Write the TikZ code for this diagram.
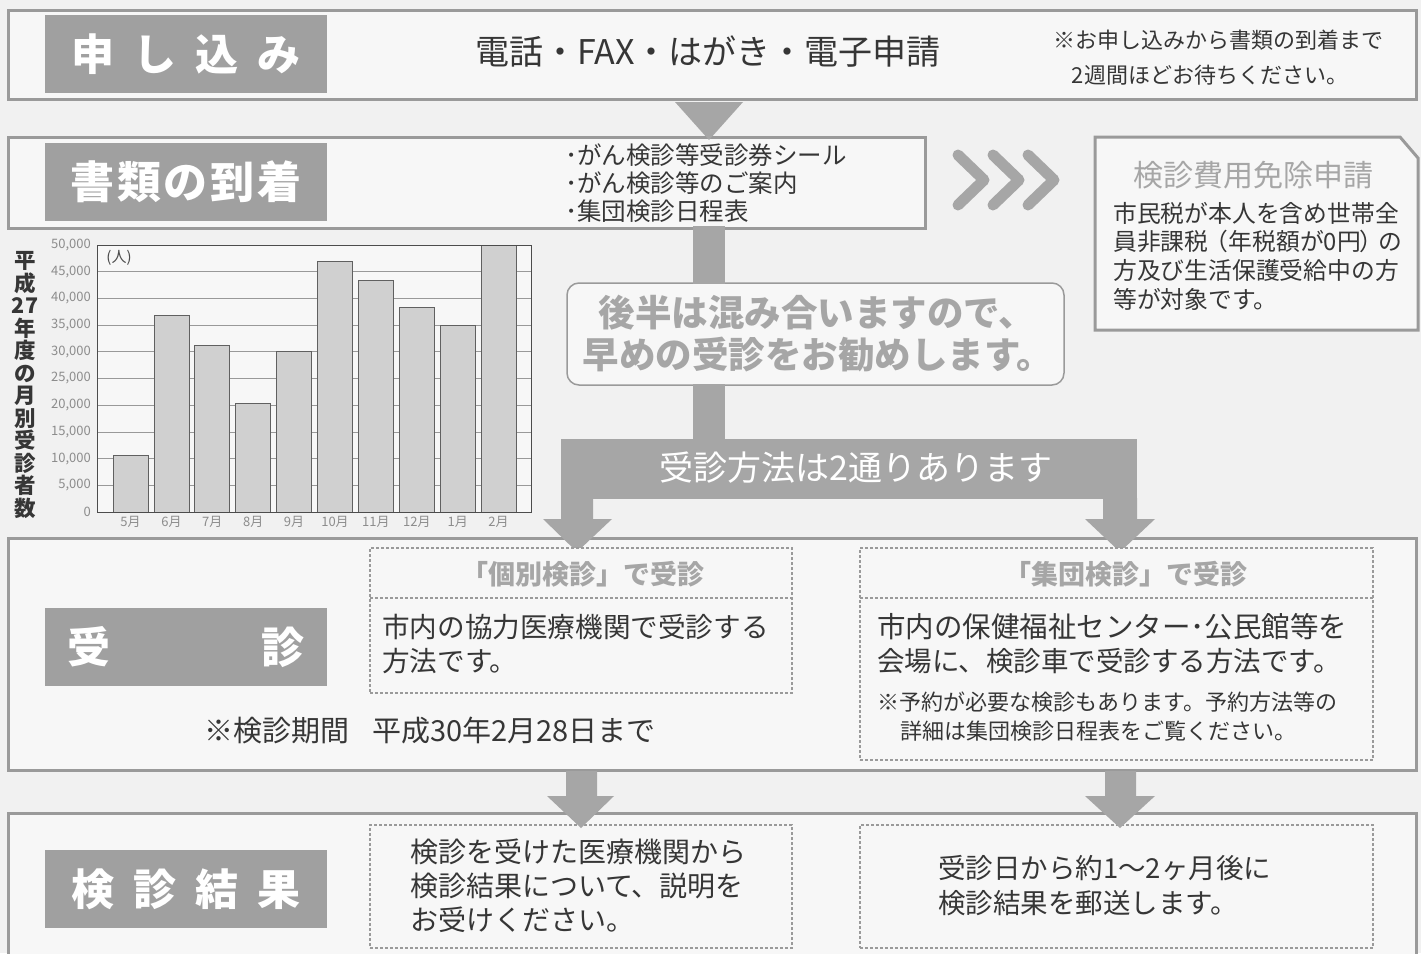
\documentclass[tikz,border=0pt]{standalone}
\usepackage{fontspec}
\setmainfont{Noto Sans CJK JP}
\usetikzlibrary{calc}
\definecolor{bg}{HTML}{F1F1F1}
\definecolor{boxfill}{HTML}{F7F7F7}
\definecolor{framegray}{HTML}{9A9A9A}
\definecolor{labelgray}{HTML}{A0A0A0}
\definecolor{arrowgray}{HTML}{A6A6A6}
\definecolor{txtdark}{HTML}{363636}
\definecolor{softtxt}{HTML}{A6A6A6}
\definecolor{barfill}{HTML}{D0D0D0}
\newcommand{\fsz}[2]{\fontsize{#1pt}{#2pt}\selectfont}
\begin{document}
\begin{tikzpicture}[x=1pt,y=-1pt,
  rowbox/.style={draw=framegray, line width=3pt, fill=boxfill, inner sep=0pt, outer sep=0pt, anchor=north west},
  lblbox/.style={fill=labelgray, text=white, font=\fsz{43}{48}\bfseries, inner sep=0pt, outer sep=0pt, anchor=north west, minimum width=282pt, minimum height=78pt},
  dashbox/.style={draw=framegray, line width=1.2pt, dash pattern=on 3pt off 2pt, fill=boxfill, inner sep=0pt, outer sep=0pt, anchor=north west},
  body/.style={text=txtdark, inner sep=0pt},
  blockarrow/.style={fill=arrowgray, draw=none},
  chev/.style={draw=arrowgray, line width=11pt, line cap=round, line join=round},
  gridline/.style={draw=gray!80, line width=0.7pt},
  barstyle/.style={fill=barfill, draw=gray!75!black, line width=0.7pt},
  ticklbl/.style={text=gray!90, font=\fsz{13}{15}, inner sep=0pt},
]
\useasboundingbox (0,0) rectangle (1421,953);
\clip (0,0) rectangle (1421,953);
\fill[bg] (0,0) rectangle (1421,953);

% ---------- row boxes ----------
\node[rowbox, minimum width=1408pt, minimum height=89pt] (row1) at (8,10) {};
\node[rowbox, minimum width=917pt, minimum height=91pt] (row2) at (8,137) {};
\node[rowbox, minimum width=1408pt, minimum height=232pt] (row3) at (8,538) {};
\node[rowbox, minimum width=1408pt, minimum height=160pt] (row4) at (8,813) {};

% ---------- label boxes ----------
\node[lblbox] (lbl1) at (45,15) {申\hspace{0.44em}し\hspace{0.44em}込\hspace{0.44em}み};
\node[lblbox, font=\fsz{44}{48}\bfseries] (lbl2) at (45,143) {書\hspace{0.06em}類\hspace{0.06em}の\hspace{0.06em}到\hspace{0.06em}着};
\node[lblbox] (lbl3) at (45,608) {受\hspace{3.5em}診};
\node[lblbox] (lbl4) at (45,850) {検\hspace{0.44em}診\hspace{0.44em}結\hspace{0.44em}果};

% ---------- row 1 texts ----------
\node[body, font=\fsz{34}{40}] (apply) at (708,52) {電話・FAX・はがき・電子申請};
\node[body, font=\fsz{22}{26}] (note1a) at (1218,40) {※お申し込みから書類の到着まで};
\node[body, font=\fsz{22}{26}] (note1b) at (1210,75) {2週間ほどお待ちください。};

% ---------- row 2 texts ----------
\node[body, font=\fsz{24.5}{28}, anchor=west] (doc1) at (565,155) {･がん検診等受診券シール};
\node[body, font=\fsz{24.5}{28}, anchor=west] (doc2) at (565,183) {･がん検診等のご案内};
\node[body, font=\fsz{24.5}{28}, anchor=west] (doc3) at (565,211) {･集団検診日程表};

% chevrons
\foreach \k in {0,1,2}
  \draw[chev] ({958+35*\k},155) -- ({984+35*\k},180) -- ({958+35*\k},205);

% exemption box
\draw[draw=framegray, line width=3pt, fill=boxfill] (1095,137) -- (1400,137) -- (1418,158) -- (1418,330) -- (1095,330) -- cycle;
\node[text=softtxt, font=\fsz{30}{36}, inner sep=0pt] (exempt) at (1253,175) {検診費用免除申請};
\node[body, font=\fsz{23.8}{28}, anchor=west] (ex1) at (1113,213) {市民税が本人を含め世帯全};
\node[body, font=\fsz{23.8}{28}, anchor=west] (ex2) at (1113,241) {員非課税\kern-0.15em（年税額が0円\kern-0.05em）\kern-0.2em の};
\node[body, font=\fsz{23.8}{28}, anchor=west] (ex3) at (1113,270) {方及び生活保護受給中の方};
\node[body, font=\fsz{23.8}{28}, anchor=west] (ex4) at (1113,299) {等が対象です。};

% ---------- chart ----------
\node[text=txtdark, font=\fsz{21.5}{22.5}\bfseries, align=center, inner sep=0pt] (ylabel) at (25,385)
  {平\\成\\27\\年\\度\\の\\月\\別\\受\\診\\者\\数};
\fill[boxfill] (97,245) rectangle (531,512);
\foreach \v in {1,...,9}
  \draw[gridline] (97,{512-26.7*\v}) -- (531,{512-26.7*\v});
\foreach \val [count=\i from 0] in {10.7,36.8,31.3,20.4,30.0,47.0,43.3,38.3,35.0,50.0}
  \draw[barstyle] ({113+40.9*\i},512) rectangle ({148+40.9*\i},{512-\val*5.34});
\draw[draw=gray!60!black, line width=1pt] (97,245) rectangle (531,512);
\foreach \lab [count=\i from 0] in {0,{5,000},{10,000},{15,000},{20,000},{25,000},{30,000},{35,000},{40,000},{45,000},{50,000}}
  \node[ticklbl, anchor=east] (yt\i) at (91,{512-26.7*\i}) {\lab};
\foreach \m [count=\i from 0] in {5月,6月,7月,8月,9月,10月,11月,12月,1月,2月}
  \node[ticklbl] (mo\i) at ({130.5+40.9*\i},522) {\m};
\node[text=gray!60!black, font=\fsz{15}{17}, inner sep=0pt] (unit) at (119,258) {(人)};

% ---------- callout ----------
\node[draw=framegray, line width=1.5pt, fill=boxfill, rounded corners=12pt, minimum width=497pt, minimum height=102pt, inner sep=0pt, outer sep=0pt, anchor=north west] (callout) at (567,283) {};
\node[text=softtxt, font=\fsz{36.5}{42}\bfseries, inner sep=0pt] (callA) at (817,313) {後半は混み合いますので、};
\node[text=softtxt, font=\fsz{36.5}{42}\bfseries, inner sep=0pt] (callB) at (818,355) {早めの受診をお勧めします。};

% ---------- band ----------
\node[fill=arrowgray, minimum width=576pt, minimum height=60pt, inner sep=0pt, outer sep=0pt, anchor=north west] (band) at (561,439) {};
\node[text=white, font=\fsz{34}{40}, inner sep=0pt] (bandtxt) at (856,468) {受診方法は2通りあります};

% ---------- connectors ----------
\coordinate (cx) at (709,0);
\fill[blockarrow] ($(row1.south -| cx)+(-34,3)$) -- ($(row1.south -| cx)+(34,3)$) -- ($(row2.north -| cx)+(0,3)$) -- cycle;
\fill[blockarrow] ($(row2.south -| cx)+(-16,-2)$) rectangle ($(callout.north -| cx)+(16,1)$);
\fill[blockarrow] ($(callout.south -| cx)+(-16,-1)$) rectangle ($(band.north -| cx)+(16,1)$);
\fill[blockarrow, shift={(band.south west)}] (0,-1) -- (0,20) -- (-18,20) -- (16,53) -- (51,20) -- (32,20) -- (32,-1) -- cycle;
\fill[blockarrow, shift={(band.south east)}] (0,-1) -- (0,20) -- (18,20) -- (-17,53) -- (-52,20) -- (-34,20) -- (-34,-1) -- cycle;

% ---------- row 3 contents ----------
\node[dashbox, minimum width=422pt, minimum height=145pt] (ind) at (370,548) {};
\draw[draw=framegray, line width=1.2pt, dash pattern=on 3pt off 2pt] (ind.west |- 0,598) -- (ind.east |- 0,598);
\node[text=softtxt, font=\fsz{27}{32}\bfseries, inner sep=0pt] (indT) at (583,574) {「個別検診」で受診};
\node[body, font=\fsz{27.6}{32}, anchor=west] (ind1) at (382,627) {市内の協力医療機関で受診する};
\node[body, font=\fsz{27.6}{32}, anchor=west] (ind2) at (382,661) {方法です。};
\node[body, font=\fsz{29}{32}] (period) at (430,731) {※検診期間\hspace{0.8em}平成30年2月28日まで};

\node[dashbox, minimum width=513pt, minimum height=212pt] (grp) at (860,548) {};
\draw[draw=framegray, line width=1.2pt, dash pattern=on 3pt off 2pt] (grp.west |- 0,598) -- (grp.east |- 0,598);
\node[text=softtxt, font=\fsz{27}{32}\bfseries, inner sep=0pt] (grpT) at (1126,574) {「集団検診」で受診};
\node[body, font=\fsz{28.5}{32}, anchor=west] (grp1) at (877,627) {市内の保健福祉センター･公民館等を};
\node[body, font=\fsz{27.5}{32}, anchor=west] (grp2) at (877,661) {会場に、検診車で受診する方法です。};
\node[body, font=\fsz{22}{25}, anchor=west] (grp3) at (877,702) {※予約が必要な検診もあります。予約方法等の};
\node[body, font=\fsz{22}{25}, anchor=west] (grp4) at (900,731) {詳細は集団検診日程表をご覧ください。};

% ---------- row 4 contents ----------
\node[dashbox, minimum width=422pt, minimum height=123pt] (res1) at (370,825) {};
\node[dashbox, minimum width=513pt, minimum height=123pt] (res2) at (860,825) {};
% arrows to row 4
\fill[blockarrow] (566,771) -- (566,796) -- (547,796) -- (581,828) -- (614,796) -- (597,796) -- (597,771) -- cycle;
\fill[blockarrow] (1105,771) -- (1105,796) -- (1085,796) -- (1120,828) -- (1155,796) -- (1136,796) -- (1136,771) -- cycle;
\node[body, font=\fsz{28}{32}, anchor=west] (r1a) at (410,852) {検診を受けた医療機関から};
\node[body, font=\fsz{28}{32}, anchor=west] (r1b) at (410,886) {検診結果について、説明を};
\node[body, font=\fsz{28}{32}, anchor=west] (r1c) at (410,920) {お受けください。};
\node[body, font=\fsz{27.5}{32}, anchor=west] (r2a) at (938,868) {受診日から約1～2ヶ月後に};
\node[body, font=\fsz{27.5}{32}, anchor=west] (r2b) at (938,903) {検診結果を郵送します。};
\end{tikzpicture}
\end{document}
